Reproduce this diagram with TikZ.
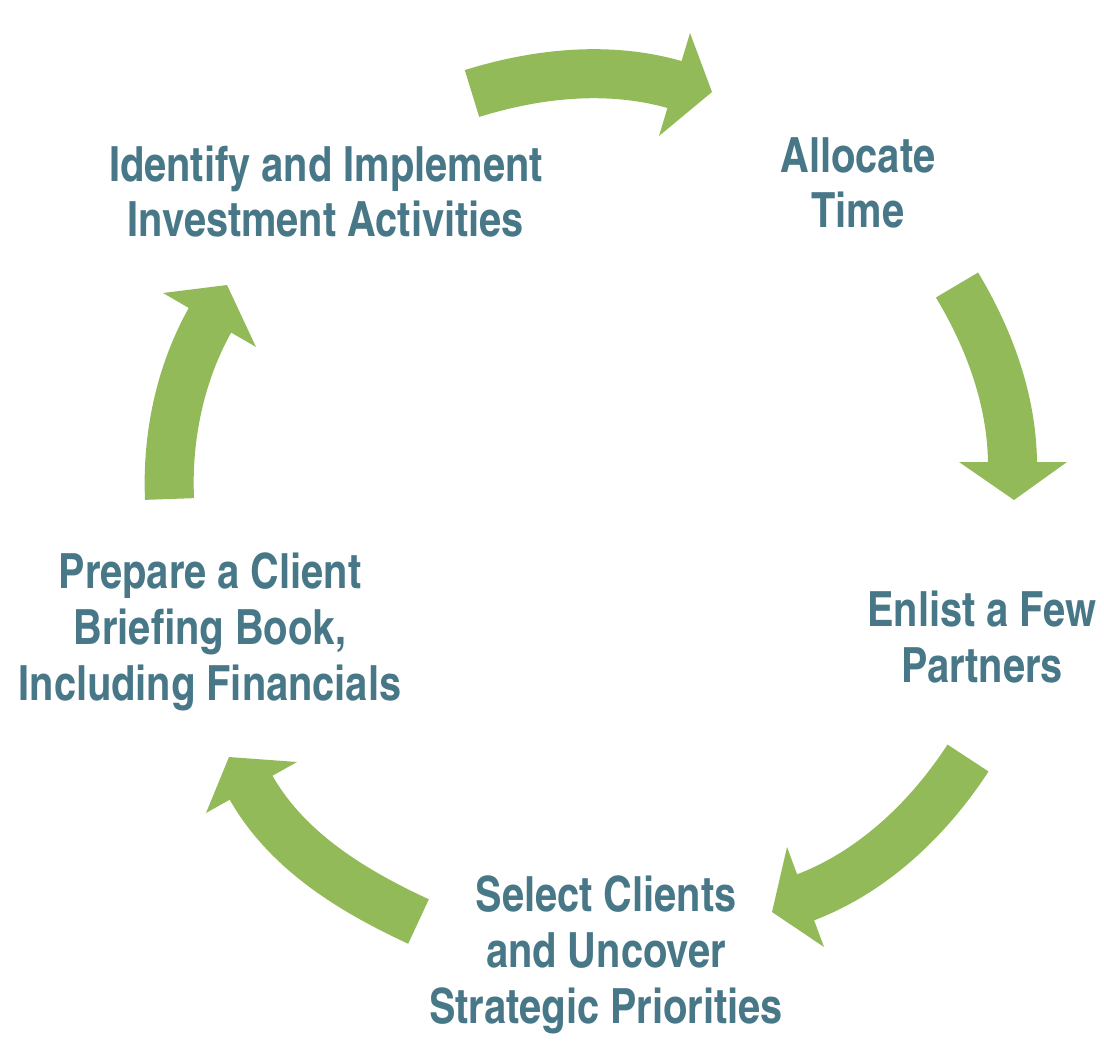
\documentclass[tikz,border=0pt]{standalone}
\usepackage{fontspec}
\newfontfamily\cnfont{texgyreheroscn-bold}[Extension=.otf]
\usetikzlibrary{positioning,calc}

\definecolor{stepgreen}{RGB}{147,186,89}
\definecolor{steptext}{RGB}{72,120,136}

\begin{document}
\begin{tikzpicture}[x=0.01cm,y=-0.01cm]
  \useasboundingbox (0,0) rectangle (1104,1046);
  % labels (base = last line)
  \begin{scope}[
    every node/.style={
      align=center,
      anchor=base,
      inner sep=0pt,
      text=steptext,
      font=\cnfont\fontsize{13.8}{15.9}\selectfont,
    },
    ]
    \node (invest)  at (326,237) {Identify and Implement\\Investment Activities};
    \node (alloc)   at (858,228) {Allocate\\Time};
    \node (enlist)  at (982,682) {Enlist a Few\\Partners};
    \node (select)  at (606,1023) {Select Clients\\and Uncover\\Strategic Priorities};
    \node (briefing) at (210,700) {Prepare a Client\\Briefing Book,\\Including Financials};
  \end{scope}
  % arrow ends
  \coordinate (tail1) at (472,93.5);   \coordinate (head1) at (674.5,84.5);
  \coordinate (tail2) at (957,285);    \coordinate (head2) at (1012.5,462);
  \coordinate (tail3) at (968,758);    \coordinate (head3) at (806.5,897);
  \coordinate (tail4) at (418.5,921.5); \coordinate (head4) at (251.5,788.5);
  \coordinate (tail5) at (169.5,499);  \coordinate (head5) at (209.5,321);
  \begin{scope}[
    every path/.style={stepgreen},
    shaft/.style={draw,line width=0.49cm,line cap=butt,shorten >=-0.04cm},
    ]
    \path[shaft] (tail1) .. controls (536.6,73.4) and (609.8,65.0) .. (head1);
    \path[shaft] (tail2) .. controls (988.8,338.0) and (1012.5,400.2) .. (head2);
    \path[shaft] (tail3) .. controls (929.3,817.5) and (873.1,872.4) .. (head3);
    \path[shaft] (tail4) .. controls (354.1,891.7) and (286.2,851.4) .. (head4);
    \path[shaft] (tail5) .. controls (166.9,438.5) and (179.1,374.3) .. (head5);
    \fill (690,33) -- (712,92) -- (659,136) -- cycle;
    \fill (959,462) -- (1014,500) -- (1067,462) -- cycle;
    \fill (787,847) -- (772,912) -- (824,947) -- cycle;
    \fill (206,813) -- (229,757) -- (297,762) -- cycle;
    \fill (163,293) -- (227,285) -- (256,347) -- cycle;
  \end{scope}
\end{tikzpicture}
\end{document}
